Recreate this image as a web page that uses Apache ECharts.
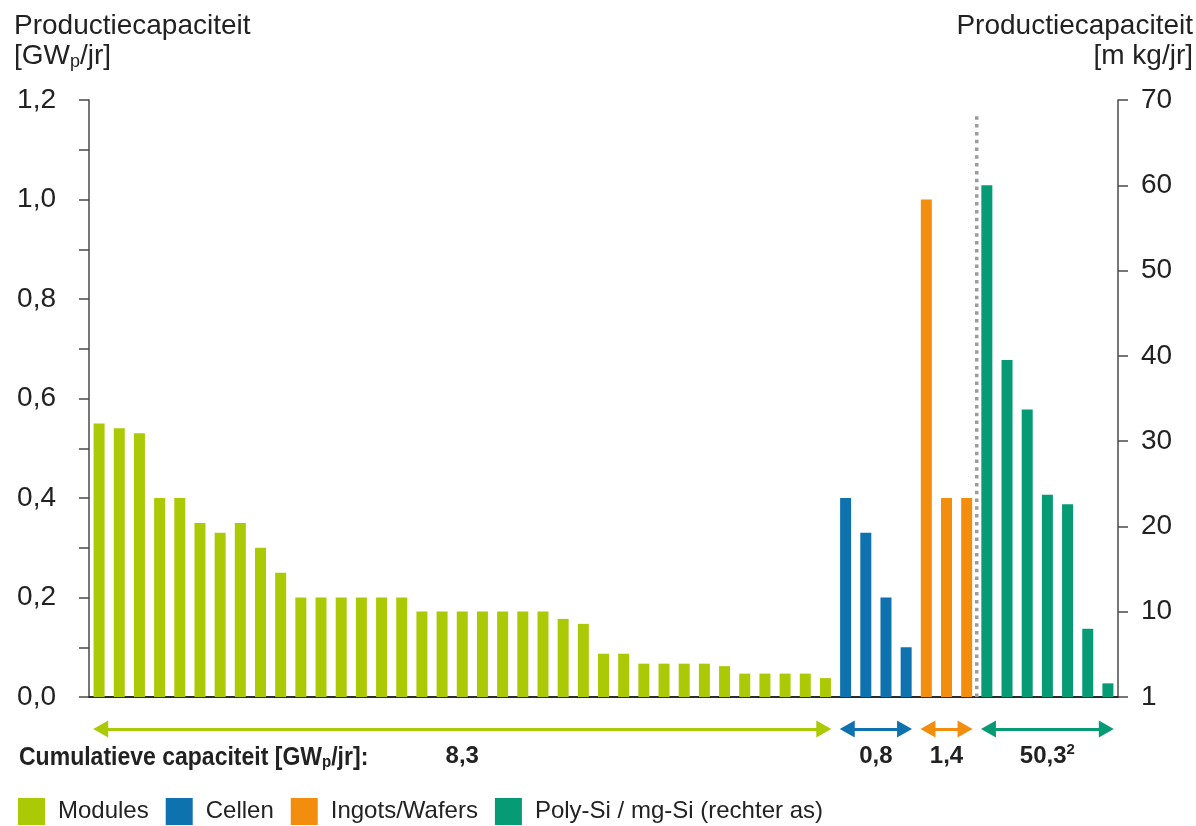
<!DOCTYPE html>
<html><head><meta charset="utf-8">
<script src="https://cdn.jsdelivr.net/npm/echarts@6/dist/echarts.min.js"></script>
<style>html,body{margin:0;padding:0;background:#fff}#c{width:1196px;height:826px}</style>
</head><body><div id="c"></div>
<script>
// ---- data ----
const moduleValues = [0.55,0.54,0.53,0.40,0.40,0.35,0.33,0.35,0.30,0.25,0.20,0.20,0.20,0.20,0.20,0.20,0.172,0.172,0.172,0.172,0.172,0.172,0.172,0.157,0.147,0.087,0.087,0.067,0.067,0.067,0.067,0.062,0.047,0.047,0.047,0.047,0.038];
const cellValues = [0.40,0.33,0.20,0.10];
const waferValues = [1.00,0.40,0.40];
const polySiValues = [60,39.5,33.7,23.7,22.6,8.0,1.6];   // right axis [m kg/jr]
const groupNames = ['Modules','Cellen','Ingots/Wafers','Poly-Si / mg-Si (rechter as)'];
const cumulativeLabels = ['8,3','0,8','1,4','50,3{sup|2}'];
const leftAxisTicks = [0,1.2,0.2];   // min, max, interval
const rightAxisTicks = [0,70,10];
const dividerTop = 1.175;

// ---- styles ----
const colors = ['#acc905','#0e72ae','#f28d0d','#079b75'];
const FONT = '"Liberation Sans", Arial, sans-serif';
const TXT = '#222222';

const groupValues = [moduleValues, cellValues, waferValues, polySiValues];
const sizes = groupValues.map(a => a.length);
const total = sizes.reduce((a,b)=>a+b,0);
const starts = []; sizes.reduce((acc,s)=>{starts.push(acc);return acc+s;},0);
const categories = [];
groupValues.forEach((vals,g)=>vals.forEach((v,i)=>categories.push(groupNames[g]+' '+(i+1))));
const pad = (vals,start)=>{const a=new Array(total).fill(null);vals.forEach((v,i)=>a[start+i]=v);return a;};
const dividerX = starts[3];
const inset = 0.58;

const chart = echarts.init(document.getElementById('c'), null, {renderer:'canvas'});

const barSeries = groupValues.map((vals,g)=>({
  name: groupNames[g], type:'bar', xAxisIndex:0, yAxisIndex: g===3?1:0,
  data: pad(vals, starts[g]), barWidth: 11, barGap:'-100%',
  itemStyle:{color: colors[g]}
}));

const axisCol = '#4a4a4a';
const option = {
  animation:false,
  backgroundColor:'#fff',
  grid:[{left:89,right:78,top:100,bottom:129},{left:89,right:78,top:718,height:50}],
  xAxis:[
    {type:'category',gridIndex:0,data:categories,axisLine:{lineStyle:{color:'#2b2b2b',width:2}},axisTick:{show:false},axisLabel:{show:false},splitLine:{show:false}},
    {type:'value',gridIndex:0,min:0,max:total,show:false},
    {type:'value',gridIndex:1,min:0,max:total,show:false}
  ],
  yAxis:[
    {type:'value',gridIndex:0,position:'left',min:leftAxisTicks[0],max:leftAxisTicks[1],interval:leftAxisTicks[2],
     axisLine:{show:true,lineStyle:{color:axisCol,width:1.5}},
     axisTick:{show:true,length:10,lineStyle:{color:axisCol,width:1.5}},
     minorTick:{show:true,splitNumber:2,length:10,lineStyle:{color:axisCol,width:1.5}},
     splitLine:{show:false},minorSplitLine:{show:false},
     axisLabel:{formatter:v=>v.toFixed(1).replace('.',','),fontFamily:FONT,fontSize:28,color:TXT,margin:33,padding:[3,0,0,0]}},
    {type:'value',gridIndex:0,position:'right',min:rightAxisTicks[0],max:rightAxisTicks[1],interval:rightAxisTicks[2],
     axisLine:{show:true,lineStyle:{color:axisCol,width:1.5}},
     axisTick:{show:true,length:10,lineStyle:{color:axisCol,width:1.5}},
     splitLine:{show:false},
     axisLabel:{formatter:v=>v===0?'1':String(v),fontFamily:FONT,fontSize:28,color:TXT,margin:23,padding:[3,0,0,0]}},
    {type:'value',gridIndex:1,min:0,max:1,show:false}
  ],
  legend:{left:18,top:798,padding:0,itemWidth:27,itemHeight:27,itemGap:17,icon:'rect',data:groupNames,selectedMode:false,
    textStyle:{fontFamily:FONT,fontSize:24,color:TXT,padding:[0,0,0,8]}},
  graphic:[
    {type:'text',x:14,y:11,style:{text:'Productiecapaciteit\n[GW{sub|p}/jr]',fontFamily:FONT,fontSize:28,lineHeight:30,fill:TXT,
      rich:{sub:{fontFamily:FONT,fontSize:18,lineHeight:10,verticalAlign:'bottom',fill:TXT}}}},
    {type:'text',x:1193,y:11,style:{text:'Productiecapaciteit\n[m kg/jr]',fontFamily:FONT,fontSize:28,lineHeight:30,fill:TXT,align:'right'}},
    {type:'text',x:19,y:744,scaleX:0.885,style:{text:'Cumulatieve capaciteit [GW{sub|p}/jr]:',fontFamily:FONT,fontWeight:'bold',fontSize:26,lineHeight:27,fill:TXT,
      rich:{sub:{fontFamily:FONT,fontWeight:'bold',fontSize:17,lineHeight:15,verticalAlign:'bottom',fill:TXT}}}}
  ],
  series:[
    ...barSeries,
    {type:'line',xAxisIndex:1,yAxisIndex:0,data:[[dividerX,0],[dividerX,dividerTop]],symbol:'none',silent:true,
     lineStyle:{color:'#9a9ca0',width:3.5,type:[3.5,4.3]}},
    {type:'line',xAxisIndex:2,yAxisIndex:2,silent:true,data:[],
     markLine:{silent:true,symbol:['triangle','triangle'],symbolSize:[17,15],
       label:{show:true,position:'insideMiddleBottom',distance:13,formatter:p=>p.name,fontFamily:FONT,fontWeight:'bold',fontSize:24,lineHeight:28,color:TXT,
         rich:{sup:{fontFamily:FONT,fontWeight:'bold',fontSize:15,lineHeight:15,verticalAlign:'top',color:TXT}}},
       data:sizes.map((s,g)=>[
         {name:cumulativeLabels[g],coord:[starts[g]+inset,0.78],lineStyle:{color:colors[g],width:3,type:'solid'},itemStyle:{color:colors[g]}},
         {coord:[starts[g]+s-inset,0.78],lineStyle:{color:colors[g],width:3,type:'solid'},itemStyle:{color:colors[g]}}
       ])}}
  ]
};
chart.setOption(option);
</script></body></html>
